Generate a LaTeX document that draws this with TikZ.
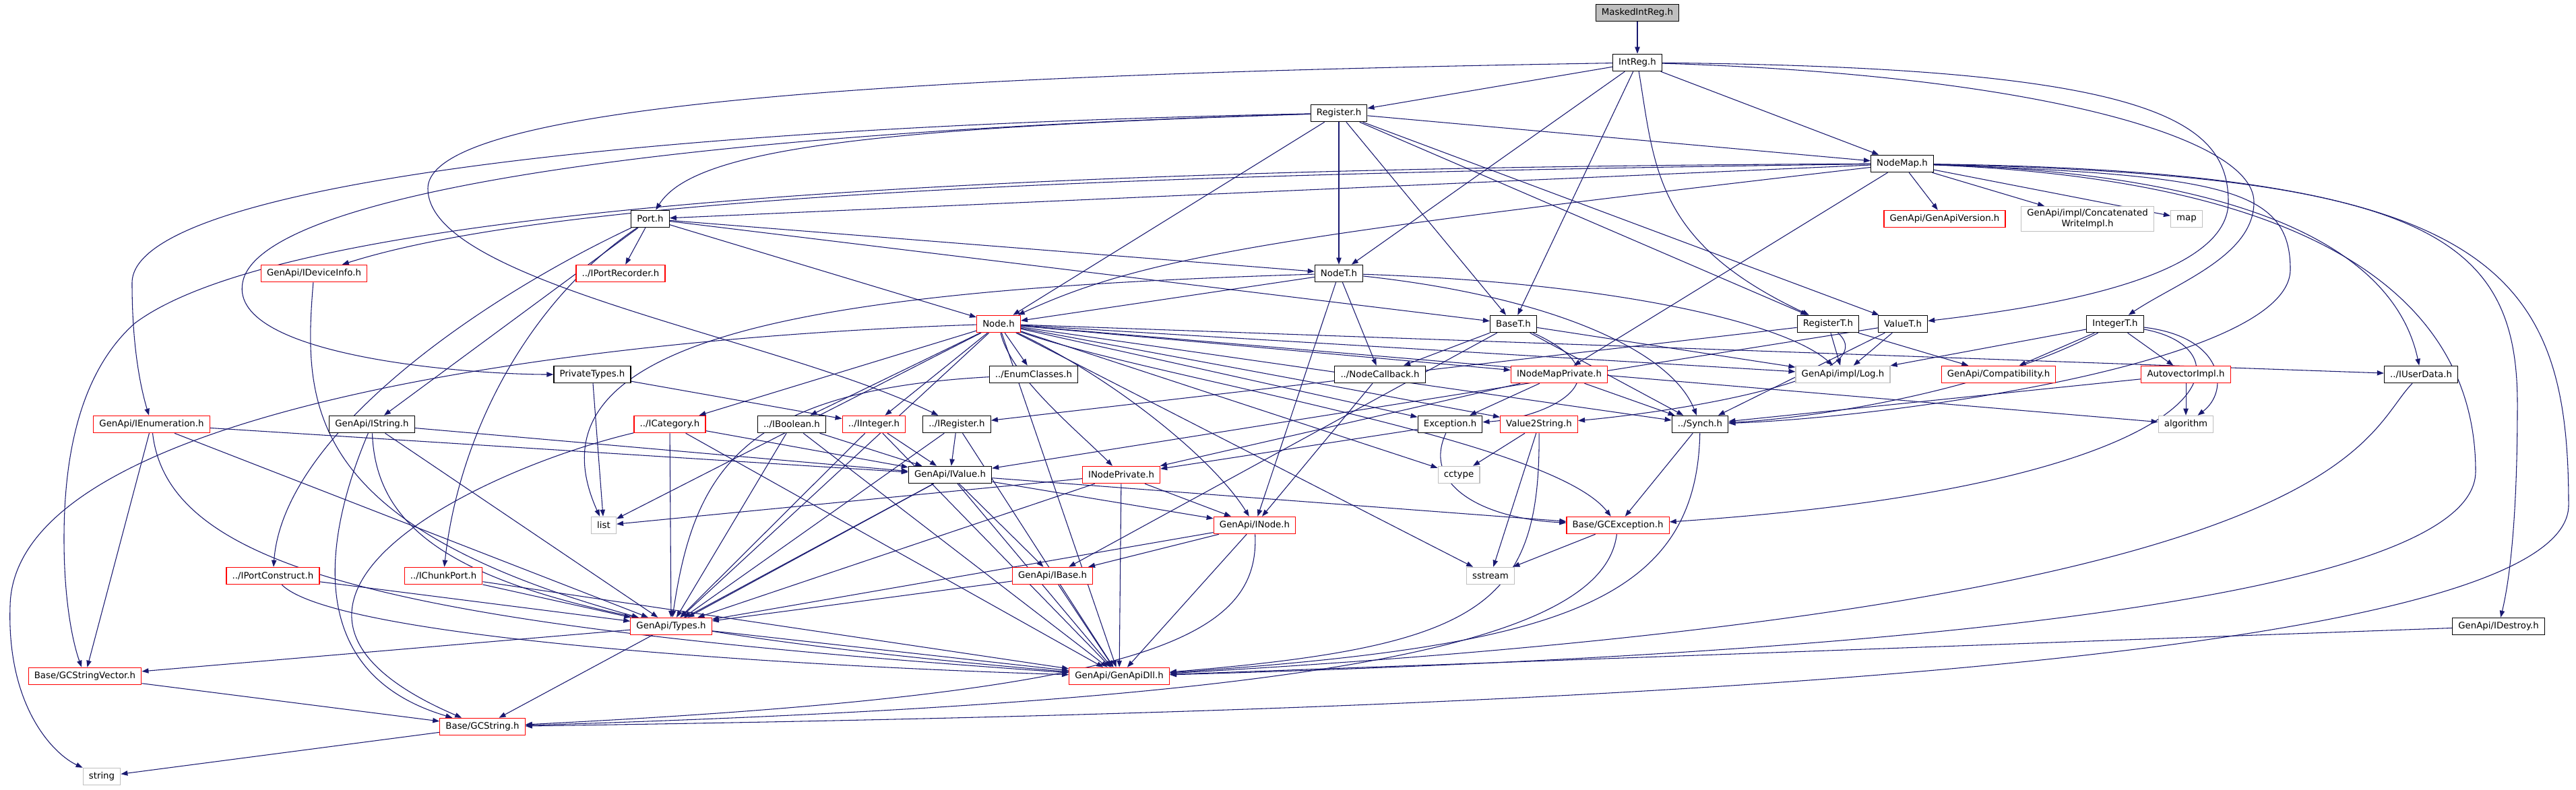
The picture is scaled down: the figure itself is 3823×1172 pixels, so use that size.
\documentclass[tikz,border=0pt]{standalone}
\usepackage{fontspec}
\setmainfont{DejaVu Sans}
\usetikzlibrary{arrows.meta}
\definecolor{navy}{HTML}{191970}
\definecolor{rb}{HTML}{FF0000}
\definecolor{gb}{HTML}{BFBFBF}
\pgfdeclarelayer{backg}
\pgfdeclarelayer{bg}
\pgfsetlayers{backg,bg,main}
\begin{document}
\begin{tikzpicture}[x=0.75pt,y=-0.75pt,
  nb/.style={draw=black,fill=white,line width=0.9pt,minimum height=19pt,inner xsep=6.5pt,inner ysep=1pt,font=\fontsize{10}{12}\selectfont},
  nr/.style={nb,draw=rb},
  ng/.style={nb,draw=gb},
  e/.style={draw=navy,line width=0.8pt,-{Triangle[length=7.5pt,width=5.5pt]}}]
\useasboundingbox (0,0) rectangle (3823,1172);
\begin{pgfonlayer}{backg}
\fill[white] (0,0) rectangle (3823,1172);
\end{pgfonlayer}
% nodes
\node[nb,fill=gb] (mir) at (2430,19) {MaskedIntReg.h};
\node[nb] (intreg) at (2430,93) {IntReg.h};
\node[nb] (reg) at (1987,168) {Register.h};
\node[nb] (nodemap) at (2823,243) {NodeMap.h};
\node[nb] (port) at (965,325) {Port.h};
\node[nr] (ver) at (2886,325) {GenApi/GenApiVersion.h};
\node[ng,align=center,inner ysep=3pt] (concat) at (3098,325) {GenApi/impl/Concatenated\\WriteImpl.h};
\node[ng] (map) at (3245,325) {map};
\node[nr] (devinfo) at (466,406) {GenApi/IDeviceInfo.h};
\node[nr] (portrec) at (921,406) {../IPortRecorder.h};
\node[nb] (nodet) at (1987,406) {NodeT.h};
\node[nr] (node) at (1482,481) {Node.h};
\node[nb] (baset) at (2246,481) {BaseT.h};
\node[nb] (regt) at (2713,481) {RegisterT.h};
\node[nb] (valuet) at (2824,481) {ValueT.h};
\node[nb] (intt) at (3139,481) {IntegerT.h};
\node[nb] (privt) at (879,556) {PrivateTypes.h};
\node[nb] (enumc) at (1534,556) {../EnumClasses.h};
\node[nb] (nodecb) at (2048,556) {../NodeCallback.h};
\node[nr] (inmp) at (2314,556) {INodeMapPrivate.h};
\node[ng] (log) at (2735,556) {GenApi/impl/Log.h};
\node[nr] (compat) at (2966,556) {GenApi/Compatibility.h};
\node[nr] (autov) at (3244,556) {AutovectorImpl.h};
\node[nb] (iuser) at (3593,556) {../IUserData.h};
\node[nr] (ienum) at (225,630) {GenApi/IEnumeration.h};
\node[nb] (istr) at (552,630) {GenApi/IString.h};
\node[nr] (icat) at (994,630) {../ICategory.h};
\node[nb] (ibool) at (1175,630) {../IBoolean.h};
\node[nr] (iint) at (1297,630) {../IInteger.h};
\node[nb] (ireg) at (1420,630) {../IRegister.h};
\node[nb] (exc) at (2152,630) {Exception.h};
\node[nr] (v2s) at (2284,630) {Value2String.h};
\node[nb] (synch) at (2523,630) {../Synch.h};
\node[ng] (algo) at (3244,630) {algorithm};
\node[nb] (ival) at (1410,705) {GenApi/IValue.h};
\node[nr] (inp) at (1664,705) {INodePrivate.h};
\node[ng] (cctype) at (2165,705) {cctype};
\node[ng] (list) at (896,780) {list};
\node[nr] (inode) at (1862,780) {GenApi/INode.h};
\node[nr] (gcexc) at (2401,780) {Base/GCException.h};
\node[nr] (iportc) at (405,855) {../IPortConstruct.h};
\node[nr] (ichunk) at (658,855) {../IChunkPort.h};
\node[nr] (ibase) at (1562,855) {GenApi/IBase.h};
\node[ng] (sstream) at (2212,855) {sstream};
\node[nr] (types) at (996,930) {GenApi/Types.h};
\node[nb] (idestroy) at (3708,930) {GenApi/IDestroy.h};
\node[nr] (gcsv) at (126,1004) {Base/GCStringVector.h};
\node[nr] (dll) at (1661,1004) {GenApi/GenApiDll.h};
\node[nr] (gcstr) at (716,1079) {Base/GCString.h};
\node[ng] (string) at (151,1153) {string};
% edges
\begin{pgfonlayer}{bg}
\draw[e] (mir) -- (intreg);
\draw[e] (intreg) -- (reg);
\draw[e] (intreg) -- (nodemap);
\draw[e] (intreg) -- (nodet);
\draw[e] (intreg) -- (baset);
\draw[e] (intreg) .. controls (2456,250) and (2456,360) .. (regt);
\draw[e] (intreg) .. controls (3000,110) and (3345,200) .. (3345,300) .. controls (3345,380) and (3230,420) .. (intt);
\draw[e] (intreg) .. controls (3200,100) and (3307,180) .. (3307,300) .. controls (3307,420) and (3000,460) .. (valuet);
\draw[e] (intreg) .. controls (1400,110) and (635,150) .. (635,280) .. controls (635,420) and (1150,500) .. (ireg);
\draw[e] (reg) -- (nodemap);
\draw[e] (reg) .. controls (1300,190) and (1030,220) .. (port);
\draw[e] (reg) -- (node);
\draw[e] (reg) -- (nodet);
\draw[e] (reg) -- (baset);
\draw[e] (reg) -- (regt);
\draw[e] (reg) -- (valuet);
\draw[e] (reg) .. controls (900,200) and (380,300) .. (360,420) .. controls (340,530) and (700,556) .. (privt);
\draw[e] (reg) .. controls (900,190) and (196,280) .. (196,420) .. controls (196,520) and (210,580) .. (ienum);
\draw[e] (nodemap) -- (port);
\draw[e] (nodemap) -- (ver);
\draw[e] (nodemap) -- (concat);
\draw[e] (nodemap) -- (map);
\draw[e] (nodemap) .. controls (1500,260) and (800,300) .. (devinfo);
\draw[e] (nodemap) -- (inmp);
\draw[e] (nodemap) .. controls (1900,350) and (1700,380) .. (node);
\draw[e] (nodemap) .. controls (3400,260) and (3560,400) .. (iuser);
\draw[e] (nodemap) .. controls (3300,260) and (3399,280) .. (3399,400) .. controls (3399,540) and (2800,620) .. (synch);
\draw[e] (nodemap) .. controls (3500,270) and (3674,480) .. (3674,700) .. controls (3674,920) and (2500,980) .. (dll);
\draw[e] (nodemap) .. controls (3600,260) and (3736,350) .. (3736,600) .. controls (3736,800) and (3720,880) .. (idestroy);
\draw[e] (nodemap) .. controls (3700,255) and (3812,400) .. (3812,750) .. controls (3812,1010) and (2000,1060) .. (gcstr);
\draw[e] (nodemap) .. controls (1200,250) and (400,330) .. (200,480) .. controls (110,560) and (95,700) .. (95,800) .. controls (95,900) and (110,960) .. (gcsv);
\draw[e] (port) -- (portrec);
\draw[e] (port) -- (nodet);
\draw[e] (port) -- (baset);
\draw[e] (port) -- (node);
\draw[e] (port) -- (istr);
\draw[e] (port) .. controls (700,450) and (420,650) .. (iportc);
\draw[e] (port) .. controls (780,450) and (680,650) .. (ichunk);
\draw[e] (devinfo) .. controls (450,600) and (450,780) .. (types);
\draw[e] (nodet) -- (node);
\draw[e] (nodet) -- (nodecb);
\draw[e] (nodet) .. controls (2400,420) and (2650,480) .. (log);
\draw[e] (nodet) .. controls (1200,430) and (770,500) .. (list);
\draw[e] (nodet) -- (inode);
\draw[e] (nodet) .. controls (2300,440) and (2480,520) .. (synch);
\draw[e] (node) -- (enumc);
\draw[e] (node) -- (icat);
\draw[e] (node) -- (ibool);
\draw[e] (node) -- (iint);
\draw[e] (node) .. controls (1500,560) and (1600,640) .. (inp);
\draw[e] (node) .. controls (1650,560) and (1800,680) .. (inode);
\draw[e] (node) -- (inmp);
\draw[e] (node) -- (iuser);
\draw[e] (node) -- (log);
\draw[e] (node) -- (synch);
\draw[e] (node) .. controls (1700,560) and (2300,650) .. (gcexc);
\draw[e] (node) -- (list);
\draw[e] (node) .. controls (900,500) and (20,600) .. (15,900) .. controls (10,1050) and (80,1120) .. (string);
\draw[e] (node) -- (cctype);
\draw[e] (node) -- (sstream);
\draw[e] (node) -- (algo);
\draw[e] (node) -- (types);
\draw[e] (node) -- (dll);
\draw[e] (node) -- (v2s);
\draw[e] (node) -- (exc);
\draw[e] (baset) -- (log);
\draw[e] (baset) -- (synch);
\draw[e] (baset) .. controls (2420,560) and (2300,620) .. (exc);
\draw[e] (baset) -- (nodecb);
\draw[e] (baset) -- (ibase);
\draw[e] (regt) -- (log);
\draw[e] (regt) .. controls (2800,560) and (2500,610) .. (v2s);
\draw[e] (regt) -- (compat);
\draw[e] (regt) -- (ireg);
\draw[e] (valuet) -- (log);
\draw[e] (valuet) -- (ival);
\draw[e] (valuet) -- (synch);
\draw[e] (intt) -- (log);
\draw[e] (intt) -- (compat);
\draw[e] (intt) -- (autov);
\draw[e] (intt) .. controls (3300,500) and (3310,580) .. (algo);
\draw[e] (intt) .. controls (2950,580) and (2700,620) .. (synch);
\draw[e] (intt) .. controls (3350,520) and (3300,720) .. (gcexc);
\draw[e] (autov) -- (algo);
\draw[e] (autov) -- (synch);
\draw[e] (privt) -- (list);
\draw[e] (privt) -- (iint);
\draw[e] (inmp) -- (exc);
\draw[e] (inmp) -- (synch);
\draw[e] (inmp) -- (inp);
\draw[e] (enumc) .. controls (1100,580) and (1030,700) .. (types);
\draw[e] (nodecb) -- (inode);
\draw[e] (exc) .. controls (2110,720) and (2200,770) .. (gcexc);
\draw[e] (exc) -- (inp);
\draw[e] (v2s) -- (cctype);
\draw[e] (v2s) -- (sstream);
\draw[e] (v2s) .. controls (2286,900) and (2200,960) .. (dll);
\draw[e] (synch) -- (gcexc);
\draw[e] (synch) .. controls (2518,900) and (2300,960) .. (dll);
\draw[e] (ienum) -- (ival);
\draw[e] (ienum) -- (gcsv);
\draw[e] (ienum) .. controls (250,850) and (600,930) .. (dll);
\draw[e] (ienum) -- (types);
\draw[e] (istr) -- (ival);
\draw[e] (istr) .. controls (480,800) and (450,1000) .. (gcstr);
\draw[e] (istr) -- (types);
\draw[e] (istr) .. controls (560,850) and (800,930) .. (dll);
\draw[e] (icat) -- (ival);
\draw[e] (icat) -- (types);
\draw[e] (icat) -- (dll);
\draw[e] (icat) .. controls (700,700) and (300,900) .. (gcstr);
\draw[e] (ibool) -- (ival);
\draw[e] (ibool) -- (types);
\draw[e] (ibool) -- (dll);
\draw[e] (iint) -- (ival);
\draw[e] (iint) -- (types);
\draw[e] (iint) -- (dll);
\draw[e] (ireg) -- (ival);
\draw[e] (ireg) -- (types);
\draw[e] (ireg) -- (dll);
\draw[e] (ival) -- (ibase);
\draw[e] (ival) -- (inode);
\draw[e] (ival) -- (gcexc);
\draw[e] (ival) -- (types);
\draw[e] (ival) -- (dll);
\draw[e] (ival) -- (gcstr);
\draw[e] (inp) -- (list);
\draw[e] (inp) -- (inode);
\draw[e] (inp) -- (types);
\draw[e] (inp) -- (dll);
\draw[e] (inode) -- (ibase);
\draw[e] (inode) -- (types);
\draw[e] (inode) -- (dll);
\draw[e] (inode) .. controls (1870,950) and (1700,1030) .. (gcstr);
\draw[e] (ibase) -- (types);
\draw[e] (ibase) -- (dll);
\draw[e] (types) -- (dll);
\draw[e] (types) -- (gcsv);
\draw[e] (gcsv) -- (gcstr);
\draw[e] (gcstr) -- (string);
\draw[e] (gcexc) -- (sstream);
\draw[e] (gcexc) .. controls (2380,950) and (2000,1040) .. (gcstr);
\draw[e] (iportc) -- (types);
\draw[e] (iportc) .. controls (500,950) and (1200,990) .. (dll);
\draw[e] (ichunk) -- (types);
\draw[e] (ichunk) -- (dll);
\draw[e] (iuser) .. controls (3501,650) and (3501,900) .. (dll);
\draw[e] (idestroy) -- (dll);
\end{pgfonlayer}
\end{tikzpicture}
\end{document}
